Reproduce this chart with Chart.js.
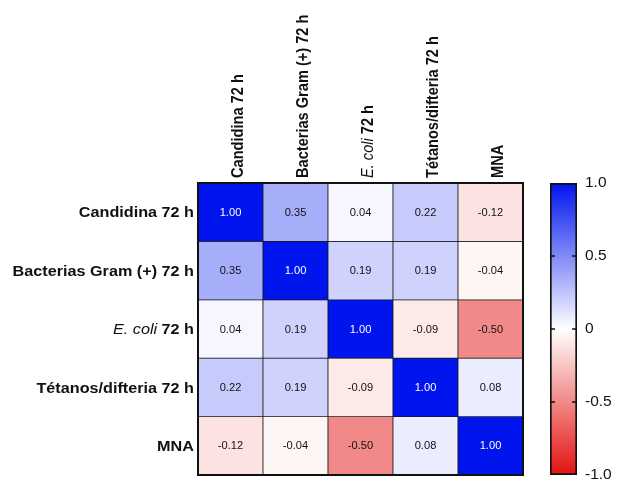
<!DOCTYPE html>
<html>
<head>
<meta charset="utf-8">
<script src="https://cdn.jsdelivr.net/npm/chart.js@4/dist/chart.umd.min.js"></script>
<style>
  html, body { margin: 0; padding: 0; background: #fff; }
  #wrap { position: relative; width: 619px; height: 483px; }
  #wrap canvas { position: absolute; left: 0; top: 0; }
</style>
</head>
<body>
<div id="wrap">
  <canvas id="heat" width="619" height="483"></canvas>
  <canvas id="bar" width="619" height="483"></canvas>
</div>
<script>
// Variables of the correlation matrix (same order for rows and columns)
const categories = ['Candidina 72 h', 'Bacterias Gram (+) 72 h', 'E. coli 72 h', 'Tétanos/difteria 72 h', 'MNA'];
// Species names set in italics inside the labels
const italicTerms = ['E. coli'];

// Pearson r, one array per row
const rowCandidina = [1.00, 0.35, 0.04, 0.22, -0.12];
const rowGram      = [0.35, 1.00, 0.19, 0.19, -0.04];
const rowEcoli     = [0.04, 0.19, 1.00, -0.09, -0.50];
const rowTetanos   = [0.22, 0.19, -0.09, 1.00, 0.08];
const rowMNA       = [-0.12, -0.04, -0.50, 0.08, 1.00];
const matrixRows = [rowCandidina, rowGram, rowEcoli, rowTetanos, rowMNA];

// Colour bar ticks
const colorbarTicks = [-1.0, -0.5, 0, 0.5, 1.0];
const colorbarTickLabels = ['-1.0', '-0.5', '0', '0.5', '1.0'];

const FONT = '"Liberation Sans", Arial, Helvetica, sans-serif';
const SX = 1.11; // horizontal text stretch

const WHITE = [255, 255, 255];
const BLUE = [0, 20, 238];
const RED = [226, 18, 16];
function colorFor(v) {
  const t = Math.min(1, Math.abs(v));
  const end = v >= 0 ? BLUE : RED;
  const c = WHITE.map((w, k) => Math.round(w + (end[k] - w) * t));
  return `rgb(${c[0]},${c[1]},${c[2]})`;
}

function splitLabel(label) {
  for (const term of italicTerms) {
    if (label.startsWith(term)) {
      return [{ text: term, italic: true }, { text: label.slice(term.length), italic: false }];
    }
  }
  return [{ text: label, italic: false }];
}
function partFont(p, size) {
  return p.italic ? `italic ${size}px ${FONT}` : `bold ${size}px ${FONT}`;
}
function partsWidth(ctx, parts, size) {
  let w = 0;
  for (const p of parts) { ctx.font = partFont(p, size); w += ctx.measureText(p.text).width; }
  return w;
}
function drawParts(ctx, parts, size, startX) {
  let x = startX;
  ctx.textAlign = 'left';
  ctx.textBaseline = 'alphabetic';
  for (const p of parts) {
    ctx.font = partFont(p, size);
    ctx.fillText(p.text, x, 0);
    x += ctx.measureText(p.text).width;
  }
}

const LABEL_SIZE = 14.6;

// Axis labels, cell values and frame of the heat map
const heatDecor = {
  id: 'heatDecor',
  afterDatasetsDraw(chart) {
    const ctx = chart.ctx;
    const xs = chart.scales.x, ys = chart.scales.y;
    const area = chart.chartArea;

    // cell values
    chart.data.datasets.forEach((ds, i) => {
      const meta = chart.getDatasetMeta(i);
      meta.data.forEach((el, j) => {
        const v = ds.values[j];
        const cy = (el.y + el.base) / 2;
        ctx.save();
        ctx.translate(el.x, cy + 3.6);
        ctx.scale(SX, 1);
        ctx.font = `10px ${FONT}`;
        ctx.textAlign = 'center';
        ctx.textBaseline = 'alphabetic';
        ctx.fillStyle = Math.abs(v) > 0.7 ? '#ffffff' : '#111111';
        ctx.fillText(v.toFixed(2), 0, 0);
        ctx.restore();
      });
    });

    // frame
    ctx.save();
    ctx.strokeStyle = '#111';
    ctx.lineWidth = 2;
    ctx.strokeRect(area.left, area.top, area.right - area.left, area.bottom - area.top);
    ctx.restore();

    // row labels
    categories.forEach((label, i) => {
      const parts = splitLabel(label);
      const w = partsWidth(ctx, parts, LABEL_SIZE);
      const cy = ys.getPixelForValue(i + 0.5);
      ctx.save();
      ctx.fillStyle = '#111';
      ctx.translate(area.left - 4, cy + 5.2);
      ctx.scale(SX, 1);
      drawParts(ctx, parts, LABEL_SIZE, -w);
      ctx.restore();
    });
    // column labels (vertical)
    categories.forEach((label, j) => {
      const parts = splitLabel(label);
      const cx = xs.getPixelForValue(j);
      ctx.save();
      ctx.fillStyle = '#111';
      ctx.translate(cx + 12, area.top - 5);
      ctx.scale(SX, 1);
      ctx.rotate(-Math.PI / 2);
      drawParts(ctx, parts, LABEL_SIZE, 0);
      ctx.restore();
    });
  }
};

new Chart(document.getElementById('heat'), {
  type: 'bar',
  data: {
    labels: categories,
    datasets: matrixRows.map((row, i) => ({
      label: categories[i],
      values: row,
      data: row.map(() => [i, i + 1]),
      backgroundColor: row.map(colorFor),
      borderColor: '#1a1a1a',
      borderWidth: 0.75,
      borderSkipped: false,
      grouped: false,
      barPercentage: 1,
      categoryPercentage: 1
    }))
  },
  options: {
    responsive: false,
    animation: false,
    events: [],
    layout: { padding: { left: 0, right: 96, top: 0, bottom: 8 } },
    plugins: { legend: { display: false }, tooltip: { enabled: false } },
    scales: {
      x: {
        position: 'top',
        ticks: { display: false },
        grid: { display: false },
        border: { display: false },
        afterFit(scale) { scale.height = 183; }
      },
      y: {
        type: 'linear',
        min: 0,
        max: categories.length,
        reverse: true,
        ticks: { display: false },
        grid: { display: false },
        border: { display: false },
        afterFit(scale) { scale.width = 198; }
      }
    }
  },
  plugins: [heatDecor]
});

// Colour bar
const barTicksMarks = {
  id: 'barTicksMarks',
  afterDatasetsDraw(chart) {
    const ctx = chart.ctx;
    const ys = chart.scales.y;
    const area = chart.chartArea;
    ctx.save();
    ctx.strokeStyle = '#111';
    ctx.lineWidth = 1.5;
    colorbarTicks.forEach(v => {
      if (Math.abs(v) === 1) return;
      const y = ys.getPixelForValue(v);
      ctx.beginPath();
      ctx.moveTo(area.left, y); ctx.lineTo(area.left + 5, y);
      ctx.moveTo(area.right - 5, y); ctx.lineTo(area.right, y);
      ctx.stroke();
    });
    ctx.restore();
  }
};

new Chart(document.getElementById('bar'), {
  type: 'bar',
  data: {
    labels: ['r'],
    datasets: [{
      data: [[colorbarTicks[0], colorbarTicks[colorbarTicks.length - 1]]],
      backgroundColor(context) {
        const area = context.chart.chartArea;
        if (!area) return 'rgba(0,0,0,0)';
        const g = context.chart.ctx.createLinearGradient(0, area.bottom, 0, area.top);
        for (let k = 0; k <= 20; k++) {
          const v = -1 + k / 10;
          g.addColorStop(k / 20, colorFor(v));
        }
        return g;
      },
      borderColor: '#111',
      borderWidth: 2,
      borderSkipped: false,
      barPercentage: 1,
      categoryPercentage: 1
    }]
  },
  options: {
    responsive: false,
    animation: false,
    events: [],
    layout: { padding: { left: 550, right: 0, top: 183, bottom: 8 } },
    plugins: { legend: { display: false }, tooltip: { enabled: false } },
    scales: {
      x: { display: false },
      y: {
        position: 'right',
        min: -1,
        max: 1,
        grid: { display: false, drawTicks: false },
        border: { display: false },
        afterBuildTicks(scale) { scale.ticks = colorbarTicks.map(v => ({ value: v })); },
        ticks: {
          padding: 8,
          color: '#111',
          font: { family: FONT, size: 15.5 },
          callback(value, index) { return colorbarTickLabels[index]; }
        },
        afterFit(scale) {
          scale.width = 42;
          scale.paddingTop = 0;
          scale.paddingBottom = 0;
        }
      }
    }
  },
  plugins: [barTicksMarks]
});
</script>
</body>
</html>
